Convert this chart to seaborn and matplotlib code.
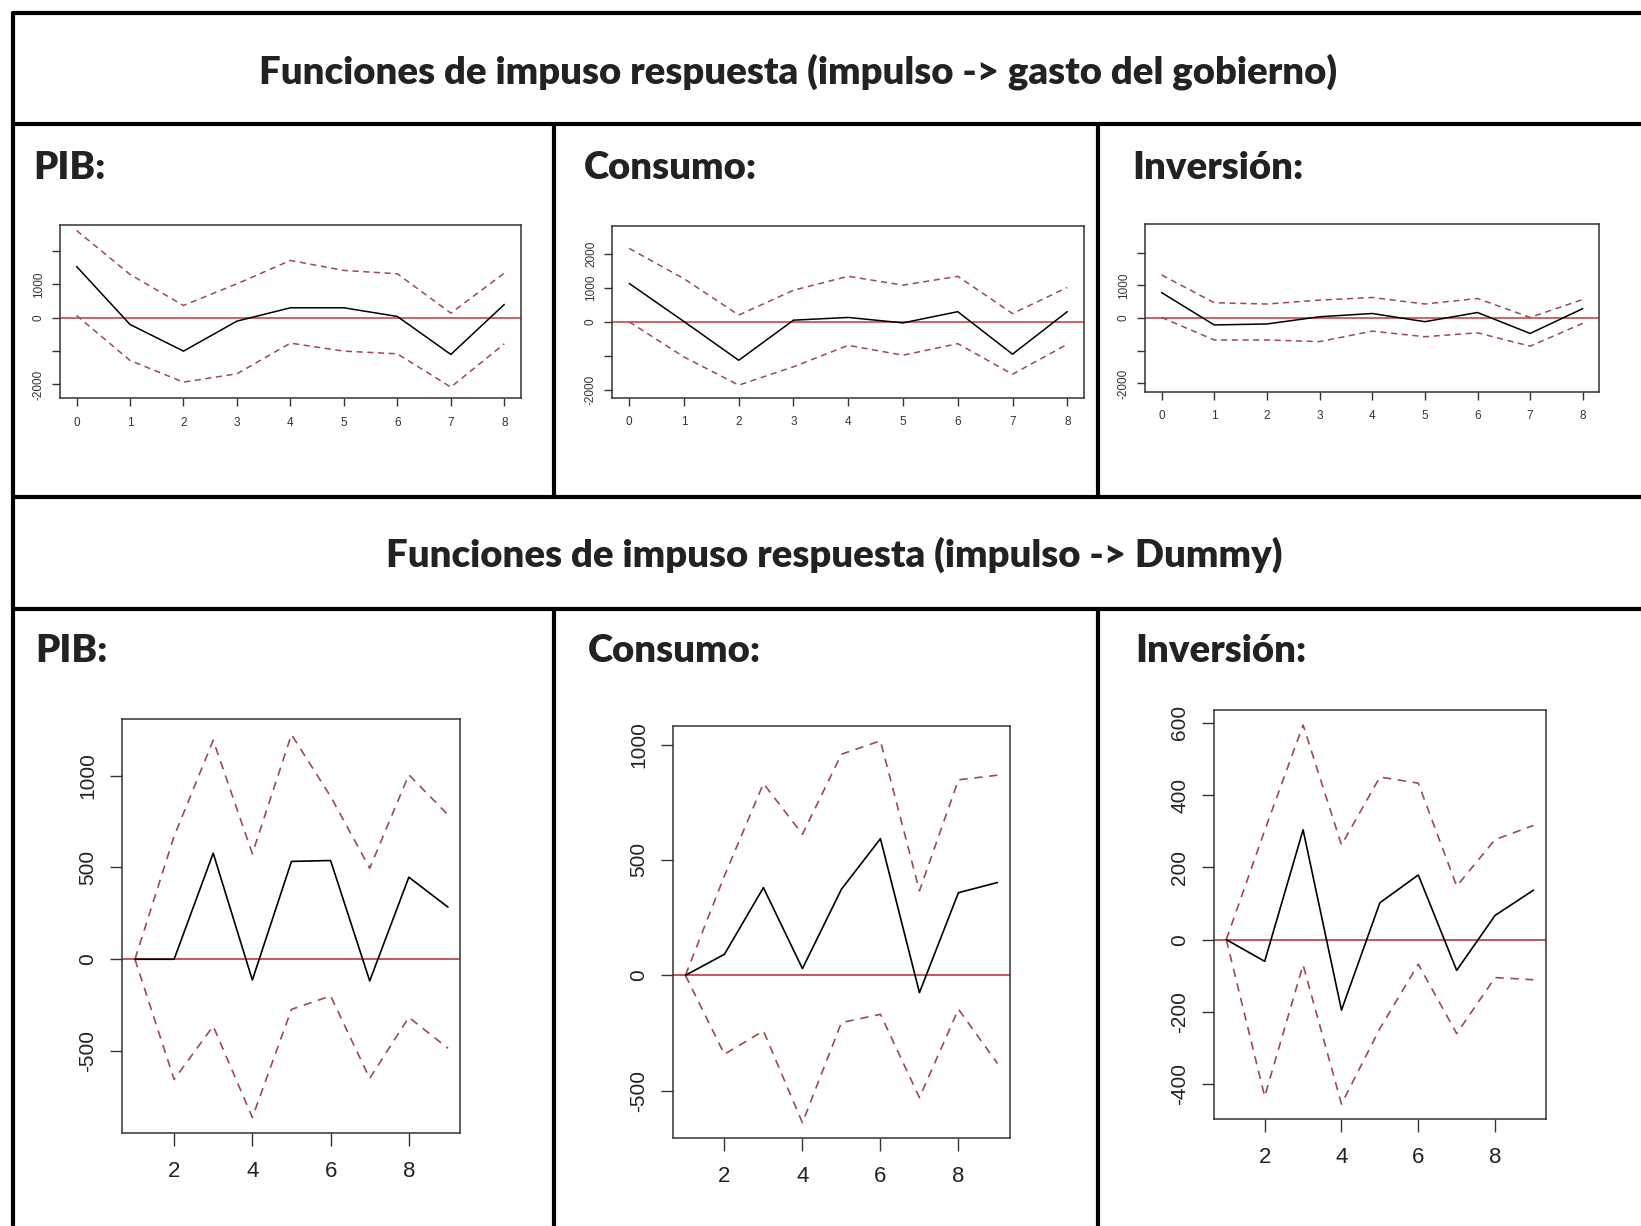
import numpy as np
import pandas as pd
import matplotlib
matplotlib.use("Agg")
import matplotlib.pyplot as plt
import seaborn as sns
from matplotlib.lines import Line2D

# ---------------- data ----------------
h_top = [0, 1, 2, 3, 4, 5, 6, 7, 8]
h_bot = [1, 2, 3, 4, 5, 6, 7, 8, 9]

# impulse -> gasto del gobierno
gasto_pib_irf = [1540, -200, -1000, -100, 300, 300, 40, -1100, 400]
gasto_pib_upper = [2620, 1300, 370, 1020, 1720, 1420, 1320, 140, 1340]
gasto_pib_lower = [70, -1280, -1930, -1680, -760, -1000, -1080, -2080, -780]

gasto_cons_irf = [1120, 0, -1140, 40, 120, -40, 290, -960, 290]
gasto_cons_upper = [2150, 1260, 190, 920, 1330, 1070, 1330, 235, 1000]
gasto_cons_lower = [-10, -1040, -1870, -1330, -700, -990, -650, -1550, -670]

gasto_inv_irf = [780, -210, -180, 40, 140, -110, 170, -470, 290]
gasto_inv_upper = [1320, 470, 430, 550, 630, 430, 600, 20, 570]
gasto_inv_lower = [20, -670, -670, -720, -400, -570, -450, -860, -160]

# impulse -> Dummy
dummy_pib_irf = [0, 0, 578, -113, 533, 538, -118, 447, 284]
dummy_pib_upper = [0, 670, 1193, 575, 1224, 887, 496, 1005, 787]
dummy_pib_lower = [0, -655, -364, -862, -273, -200, -649, -316, -485]

dummy_cons_irf = [0, 91, 380, 29, 373, 592, -75, 358, 402]
dummy_cons_upper = [0, 431, 831, 611, 958, 1016, 366, 847, 867]
dummy_cons_lower = [0, -342, -241, -639, -205, -169, -530, -147, -382]

dummy_inv_irf = [0, -60, 304, -195, 102, 179, -85, 67, 137]
dummy_inv_upper = [0, 302, 594, 262, 450, 433, 148, 277, 316]
dummy_inv_lower = [0, -434, -70, -455, -246, -68, -260, -105, -111]

title_top = "Funciones de impuso respuesta (impulso -> gasto del gobierno)"
title_bot = "Funciones de impuso respuesta (impulso -> Dummy)"
panel_names = ["PIB:", "Consumo:", "Inversión:"]

top_yticks = [-2000, -1000, 0, 1000, 2000]
top_ylabels = [
    ["-2000", "", "0", "1000", ""],
    ["-2000", "", "0", "1000", "2000"],
    ["-2000", "", "0", "1000", ""],
]
top_ylims = [(-2420, 2780), (-2235, 2805), (-2255, 2877)]

bot_yticks = [
    [-500, 0, 500, 1000],
    [-500, 0, 500, 1000],
    [-400, -200, 0, 200, 400, 600],
]
bot_xticks = [2, 4, 6, 8]

# ---------------- style ----------------
sns.set_style("white")
plt.rcParams["font.family"] = ["Liberation Sans", "DejaVu Sans"]

fig = plt.figure(figsize=(16.41, 12.26), dpi=100)

W, H = 1568.0, 1171.0  # layout measured on the shrunk reference


def fx(x):
    return x / W


def fy(y):
    return 1 - y / H


def box(l, t, r, b):
    return [fx(l), fy(b), fx(r) - fx(l), fy(t) - fy(b)]


CI_COL = "#a04850"
ZERO_COL = "#c03a3a"

top_boxes = [box(57.3, 215, 497.7, 380.6), box(585, 216, 1036, 379.7),
             box(1094.3, 214, 1528, 374.2)]
bot_boxes = [box(117, 687, 440, 1082), box(643, 693, 965, 1087), box(1160, 678, 1477, 1069)]

top_data = [
    (gasto_pib_irf, gasto_pib_upper, gasto_pib_lower),
    (gasto_cons_irf, gasto_cons_upper, gasto_cons_lower),
    (gasto_inv_irf, gasto_inv_upper, gasto_inv_lower),
]
bot_data = [
    (dummy_pib_irf, dummy_pib_upper, dummy_pib_lower),
    (dummy_cons_irf, dummy_cons_upper, dummy_cons_lower),
    (dummy_inv_irf, dummy_inv_upper, dummy_inv_lower),
]


def draw_panel(ax, h, irf, up, lo, lw_main, lw_ci, dash):
    df = pd.DataFrame({"h": h, "irf": irf, "upper": up, "lower": lo})
    ax.axhline(0, color=ZERO_COL, lw=lw_main, zorder=1)
    sns.lineplot(data=df, x="h", y="upper", ax=ax, color=CI_COL, lw=lw_ci,
                 linestyle=(0, dash), zorder=2)
    sns.lineplot(data=df, x="h", y="lower", ax=ax, color=CI_COL, lw=lw_ci,
                 linestyle=(0, dash), zorder=2)
    sns.lineplot(data=df, x="h", y="irf", ax=ax, color="black", lw=lw_main, zorder=3)
    ax.set_xlabel("")
    ax.set_ylabel("")
    for s in ax.spines.values():
        s.set_color("#333333")
        s.set_linewidth(1.1)


for i in range(3):
    ax = fig.add_axes(top_boxes[i])
    irf, up, lo = top_data[i]
    draw_panel(ax, h_top, irf, up, lo, 1.1, 1.1, (4, 3))
    ax.set_xlim(-0.31, 8.31)
    ax.set_ylim(*top_ylims[i])
    ax.set_xticks(h_top)
    ax.set_xticklabels([str(v) for v in h_top], fontsize=8.5, color="#333333")
    ax.set_yticks(top_yticks)
    ax.set_yticklabels(top_ylabels[i], fontsize=8.5, rotation=90, va="center", color="#333333")
    ax.tick_params(axis="both", direction="out", length=6, width=1, color="#333333",
                   bottom=True, left=True)
    ax.tick_params(axis="x", pad=7)
    ax.tick_params(axis="y", pad=5)

for i in range(3):
    ax = fig.add_axes(bot_boxes[i])
    irf, up, lo = bot_data[i]
    draw_panel(ax, h_bot, irf, up, lo, 1.2, 1.2, (5, 4))
    ax.margins(x=0.04, y=0.04)
    ax.set_xticks(bot_xticks)
    ax.set_xticklabels([str(v) for v in bot_xticks], fontsize=16, color="#222222")
    ax.set_yticks(bot_yticks[i])
    ax.set_yticklabels([str(v) for v in bot_yticks[i]], fontsize=15, rotation=90,
                       va="center", color="#222222")
    ax.tick_params(axis="x", pad=11)
    ax.tick_params(axis="both", direction="out", length=9, width=1, color="#333333",
                   bottom=True, left=True)
    ax.tick_params(axis="y", pad=9)

# ---------------- frame / table lines ----------------
LW = 3.0


def hline(y, x0=12, x1=W):
    fig.add_artist(Line2D([fx(x0), fx(x1)], [fy(y), fy(y)], color="black", lw=LW))


def vline(x, y0, y1):
    fig.add_artist(Line2D([fx(x), fx(x)], [fy(y0), fy(y1)], color="black", lw=LW))


hline(12)
hline(118)
hline(475)
hline(582)
vline(12, 12, H)
vline(529, 118, 475)
vline(1049, 118, 475)
vline(529, 582, H)
vline(1049, 582, H)

HEAD_FONT = ["Lato", "DejaVu Sans"]
HEAD_SIZE = 27.5
HEAD_W = "heavy"
fig.text(fx(763), fy(68), title_top, ha="center", va="center", fontsize=HEAD_SIZE,
         fontweight=HEAD_W, family=HEAD_FONT, color="#222222")
fig.text(fx(797), fy(530), title_bot, ha="center", va="center", fontsize=HEAD_SIZE,
         fontweight=HEAD_W, family=HEAD_FONT, color="#222222")

for x, name in zip([32, 558, 1082], panel_names):
    fig.text(fx(x), fy(160), name, ha="left", va="center", fontsize=HEAD_SIZE,
             fontweight=HEAD_W, family=HEAD_FONT, color="#222222")
for x, name in zip([34, 562, 1085], panel_names):
    fig.text(fx(x), fy(622), name, ha="left", va="center", fontsize=HEAD_SIZE,
             fontweight=HEAD_W, family=HEAD_FONT, color="#222222")

fig.savefig("out.png", dpi=100, facecolor="white")
